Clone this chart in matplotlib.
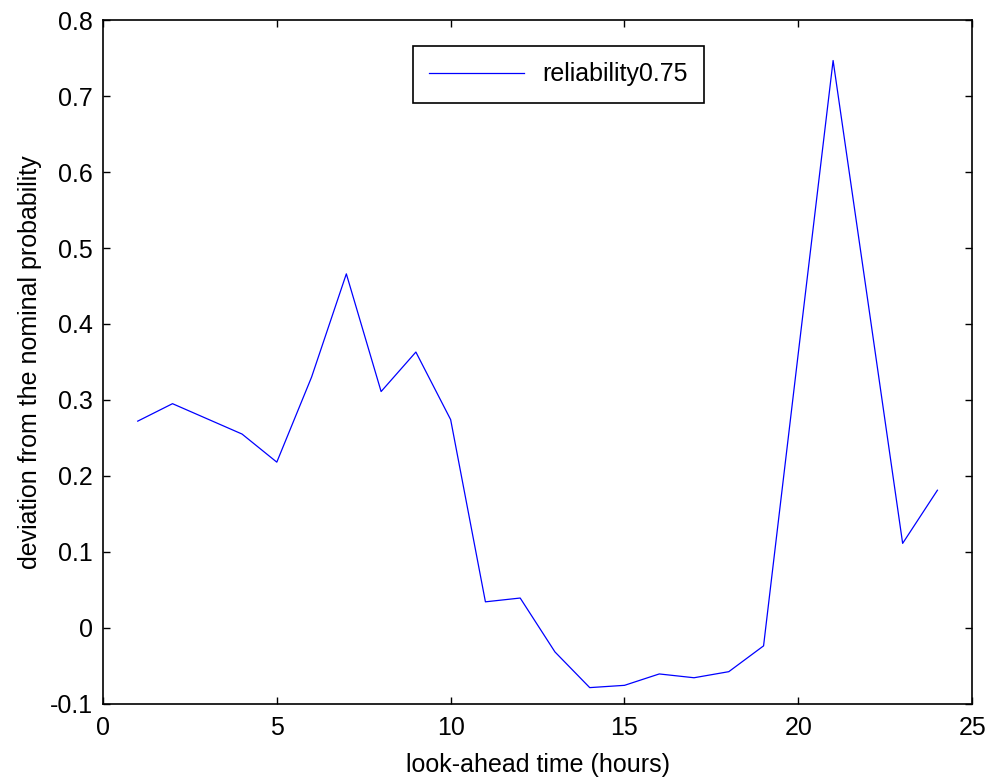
import matplotlib
matplotlib.use("Agg")
import matplotlib.pyplot as plt

plt.rcParams['font.family'] = ['Liberation Sans', 'DejaVu Sans']

# look-ahead hours and deviation values
hours = list(range(1, 25))
deviation = [0.272, 0.295, 0.275, 0.255, 0.218, 0.330, 0.466, 0.311,
             0.363, 0.274, 0.034, 0.039, -0.032, -0.079, -0.076, -0.061,
             -0.066, -0.058, -0.024, 0.362, 0.747, 0.430, 0.111, 0.181]

x_ticks = [0, 5, 10, 15, 20, 25]
y_ticks = [-0.1, 0, 0.1, 0.2, 0.3, 0.4, 0.5, 0.6, 0.7, 0.8]
y_tick_labels = ['-0.1', '0', '0.1', '0.2', '0.3', '0.4', '0.5', '0.6', '0.7', '0.8']

fig = plt.figure(figsize=(9.9, 7.8), dpi=100)
ax = fig.add_axes([0.104, 0.098, 0.878, 0.876])

ax.plot(hours, deviation, color='blue', linewidth=0.9, label='reliability0.75')

ax.set_xlim(0, 25)
ax.set_ylim(-0.1, 0.8)
ax.set_xticks(x_ticks)
ax.set_xticklabels([str(t) for t in x_ticks])
ax.set_yticks(y_ticks)
ax.set_yticklabels(y_tick_labels)
ax.tick_params(direction='in', top=True, right=True, labelsize=18, length=5, width=1)
ax.tick_params(axis='x', pad=9)
ax.tick_params(axis='y', pad=7)
for s in ax.spines.values():
    s.set_linewidth(1.2)

ax.set_xlabel('look-ahead time (hours)', fontsize=18, labelpad=9)
ax.set_ylabel('deviation from the nominal probability', fontsize=18, labelpad=6)

leg = ax.legend(loc='upper center', bbox_to_anchor=(0.524, 0.962), fontsize=18,
                fancybox=False, framealpha=1, edgecolor='black',
                handlelength=3.8, borderpad=0.65, handletextpad=0.7,
                borderaxespad=0)
leg.get_frame().set_linewidth(1.2)

fig.savefig('out.png', dpi=100)
